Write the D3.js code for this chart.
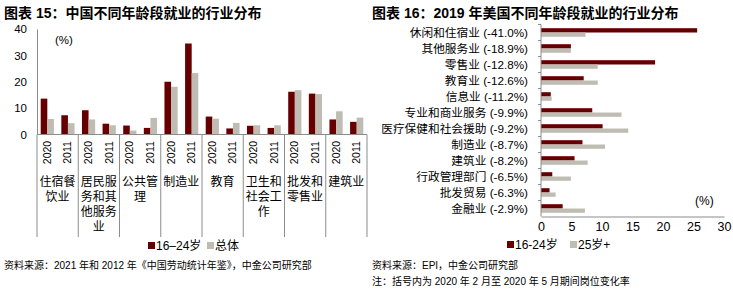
<!DOCTYPE html>
<html><head><meta charset="utf-8">
<script src="https://cdn.jsdelivr.net/npm/d3@7"></script>
<style>body{margin:0;background:#fff}svg{display:block}text{font-family:"Liberation Sans",Arial,"Noto Sans CJK SC",sans-serif;fill:#000}.cjk{font-family:"Liberation Sans","Noto Sans CJK SC",sans-serif}</style>
</head><body>
<svg id="c" width="733" height="289"></svg>
<script>
// ---- Data: chart 15 (China) ----
const cnCategories = ["住宿餐饮业","居民服务和其他服务业","公共管理","制造业","教育","卫生和社会工作","批发和零售业","建筑业"];
const cnLabelLines = [["住宿餐","饮业"],["居民服","务和其","他服务","业"],["公共管","理"],["制造业"],["教育"],["卫生和","社会工","作"],["批发和","零售业"],["建筑业"]];
const cnYears = ["2020","2011"];
// values per category: [2020, 2011]
const cnYouth = [[13.6,7.3],[9.2,4.1],[3.4,2.5],[20.0,34.5],[6.8,2.3],[3.3,2.5],[16.2,15.5],[5.7,4.8]];
const cnTotal = [[5.9,4.3],[5.7,3.5],[1.5,6.3],[18.1,23.3],[6.0,4.4],[3.5,3.5],[16.8,15.3],[8.8,6.4]];
const cnTicks = [0,10,20,30,40];
const cnSeries = ["16–24岁","总体"];

// ---- Data: chart 16 (US) ----
const usCategories = ["休闲和住宿业 (-41.0%)","其他服务业 (-18.9%)","零售业 (-12.8%)","教育业 (-12.6%)","信息业 (-11.2%)","专业和商业服务 (-9.9%)","医疗保健和社会援助 (-9.2%)","制造业 (-8.7%)","建筑业 (-8.2%)","行政管理部门 (-6.5%)","批发贸易 (-6.3%)","金融业 (-2.9%)"];
const usYouth = [25.6,4.9,18.7,7.0,1.6,8.4,10.1,6.8,5.5,1.85,1.4,3.55];
const usOlder = [7.3,4.9,9.3,9.3,1.75,13.2,14.3,10.5,7.65,4.9,2.4,7.2];
const usTicks = [0,5,10,15,20,25,30];
const usSeries = ["16-24岁","25岁+"];

const DARK = "#660000", GRAY = "#BFBDB3", LINE = "#8c8c8c";
const svg = d3.select("#c");

// titles
svg.append("text").attr("x",4).attr("y",18).attr("font-size",14).attr("font-weight","bold").attr("class","cjk").text("图表 15：中国不同年龄段就业的行业分布");
svg.append("text").attr("x",372).attr("y",18).attr("font-size",14).attr("font-weight","bold").attr("class","cjk").text("图表 16：2019 年美国不同年龄段就业的行业分布");

// ===== Left chart =====
const L = {x0:37, x1:367, y0:134.5, y1:29};
const xc = d3.scaleBand().domain(cnCategories).range([L.x0,L.x1]);
const xs = d3.scaleBand().domain(cnYears).range([0,xc.bandwidth()]);
const yc = d3.scaleLinear().domain([0,40]).range([L.y0,L.y1]);
const bw = 6.6;
const gL = svg.append("g");
cnCategories.forEach((c,i)=>{
  cnYears.forEach((yr,j)=>{
    const cx = xc(c)+xs(yr)+xs.bandwidth()/2;
    gL.append("rect").attr("x",cx-bw).attr("width",bw).attr("y",yc(cnYouth[i][j])).attr("height",yc(0)-yc(cnYouth[i][j])).attr("fill",DARK);
    gL.append("rect").attr("x",cx).attr("width",bw).attr("y",yc(cnTotal[i][j])).attr("height",yc(0)-yc(cnTotal[i][j])).attr("fill",GRAY);
    gL.append("text").attr("transform",`translate(${cx+3.5},${152.5}) rotate(-90)`).attr("text-anchor","middle").attr("font-size",10.5).text(yr);
  });
  const mid = xc(c)+xc.bandwidth()/2;
  cnLabelLines[i].forEach((ln,k)=>{
    gL.append("text").attr("class","cjk").attr("x",mid).attr("y",186+k*15).attr("text-anchor","middle").attr("font-size",12).text(ln);
  });
});
// separators
xc.domain().concat(["__end"]).forEach((c,i)=>{
  const x = i<cnCategories.length ? xc(c) : L.x1;
  gL.append("line").attr("x1",x).attr("x2",x).attr("y1",L.y0).attr("y2",237).attr("stroke",LINE).attr("stroke-width",1);
});
const yAxisL = d3.axisLeft(yc).tickValues(cnTicks).tickSize(0).tickPadding(10);
const ga = svg.append("g").attr("transform",`translate(${L.x0},0)`).call(yAxisL);
ga.select(".domain").attr("stroke",LINE);
ga.selectAll("text").attr("font-size",11.5).attr("font-family","Liberation Sans, Arial");
svg.append("line").attr("x1",L.x0).attr("x2",L.x1).attr("y1",L.y0).attr("y2",L.y0).attr("stroke",LINE);
svg.append("text").attr("x",55).attr("y",44).attr("font-size",11.5).text("(%)");
// legend left
[[148,DARK,cnSeries[0]],[207,GRAY,cnSeries[1]]].forEach(([x,col,t])=>{
  svg.append("rect").attr("x",x).attr("y",242).attr("width",7).attr("height",7).attr("fill",col);
  svg.append("text").attr("class","cjk").attr("x",x+8).attr("y",250).attr("font-size",12).text(t);
});
svg.append("text").attr("class","cjk").attr("x",4).attr("y",269).attr("font-size",10).text("资料来源：2021 年和 2012 年《中国劳动统计年鉴》，中金公司研究部");

// ===== Right chart =====
const R = {x0:541, x1:724, y0:24.5, y1:216.5};
const xr = d3.scaleLinear().domain([0,30]).range([R.x0,R.x1]);
const yr = d3.scaleBand().domain(usCategories).range([R.y0,R.y1]);
const bh = 4.3;
const gR = svg.append("g");
usCategories.forEach((c,i)=>{
  const cy = yr(c)+yr.bandwidth()/2;
  gR.append("rect").attr("x",xr(0)).attr("y",cy-bh).attr("height",bh).attr("width",xr(usYouth[i])-xr(0)).attr("fill",DARK);
  gR.append("rect").attr("x",xr(0)).attr("y",cy).attr("height",bh).attr("width",xr(usOlder[i])-xr(0)).attr("fill",GRAY);
  gR.append("text").attr("class","cjk").attr("x",528).attr("y",cy+4.5).attr("text-anchor","end").attr("font-size",11.7).text(c);
});
// y axis with ticks at band boundaries
svg.append("line").attr("x1",R.x0).attr("x2",R.x0).attr("y1",R.y0).attr("y2",R.y1).attr("stroke",LINE);
usCategories.forEach((c)=>{
  svg.append("line").attr("x1",R.x0-3).attr("x2",R.x0).attr("y1",yr(c)).attr("y2",yr(c)).attr("stroke",LINE);
});
const xAxisR = d3.axisBottom(xr).tickValues(usTicks).tickSize(0).tickPadding(6);
const gx = svg.append("g").attr("transform",`translate(0,${R.y1})`).call(xAxisR);
gx.select(".domain").attr("stroke",LINE);
gx.selectAll("text").attr("font-size",12.5).attr("font-family","Liberation Sans, Arial");
svg.append("text").attr("x",695).attr("y",205).attr("font-size",12).text("(%)");
// legend right
[[507,DARK,usSeries[0]],[570,GRAY,usSeries[1]]].forEach(([x,col,t])=>{
  svg.append("rect").attr("x",x).attr("y",241).attr("width",7).attr("height",7).attr("fill",col);
  svg.append("text").attr("class","cjk").attr("x",x+8).attr("y",249).attr("font-size",12).text(t);
});
svg.append("text").attr("class","cjk").attr("x",372).attr("y",269).attr("font-size",10).text("资料来源：EPI，中金公司研究部");
svg.append("text").attr("class","cjk").attr("x",372).attr("y",285).attr("font-size",10).text("注：括号内为 2020 年 2 月至 2020 年 5 月期间岗位变化率");
</script>
</body></html>
